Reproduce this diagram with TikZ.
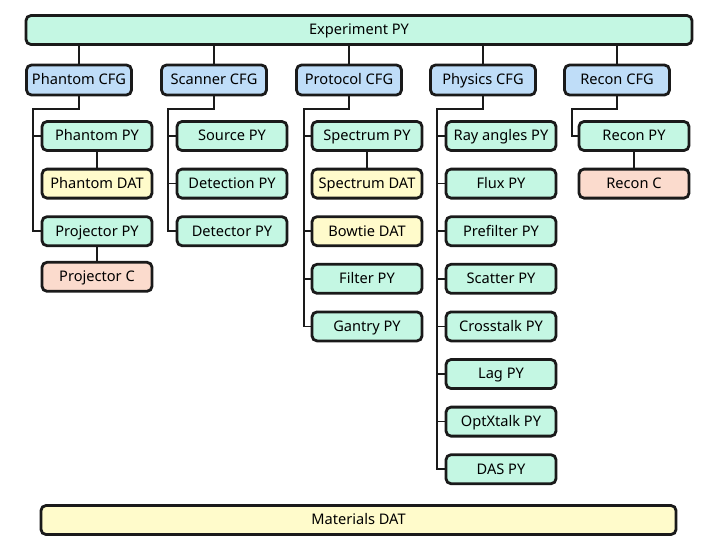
\documentclass[tikz,border=0pt]{standalone}
\usepackage{fontspec}
\setmainfont{Noto Sans}
\definecolor{pyfill}{HTML}{C4F7E3}
\definecolor{cfgfill}{HTML}{BFDDF8}
\definecolor{datfill}{HTML}{FFFBCB}
\definecolor{cfill}{HTML}{FBDBCD}
\definecolor{edge}{HTML}{1A1A1A}
\tikzset{
  box/.style={draw=edge, line width=1.4pt, rounded corners=2.5pt, minimum height=14.5pt, inner sep=0pt, text height=5.3pt, text depth=0.4pt, font=\fontsize{7.3}{9}\selectfont},
  pybox/.style={box, fill=pyfill, minimum width=55pt},
  datbox/.style={box, fill=datfill, minimum width=55pt},
  cbox/.style={box, fill=cfill, minimum width=55pt},
  cfgbox/.style={box, fill=cfgfill, minimum width=52.5pt, minimum height=15pt},
  link/.style={draw=edge, line width=0.8pt}
}
\begin{document}
\begin{tikzpicture}[x=0.5pt, y=-0.5pt]
    \useasboundingbox (0,0) rectangle (716,547);
    % top and bottom bars
    \node [pybox, minimum width=333pt] (exp) at (359,30) {Experiment PY};
    \node [datbox, minimum width=317.5pt] (mat) at (358.5,520) {Materials DAT};
    % configuration row
    \node [cfgbox] (phcfg) at (79,80) {Phantom CFG};
    \node [cfgbox] (sccfg) at (214,80) {Scanner CFG};
    \node [cfgbox] (prcfg) at (349,80) {Protocol CFG};
    \node [cfgbox] (phycfg) at (483,80) {Physics CFG};
    \node [cfgbox] (recfg) at (617,80) {Recon CFG};
    \foreach \n in {phcfg, sccfg, prcfg, phycfg, recfg}
        \draw [link] (exp.south -| \n) -- (\n.north);
    % phantom
    \node [pybox] (phpy) at (97,136) {Phantom PY};
    \node [datbox] (phdat) at (97,183.6) {Phantom DAT};
    \node [pybox] (projpy) at (97,231.2) {Projector PY};
    \node [cbox] (projc) at (97,276.8) {Projector C};
    \coordinate (phbus) at (33,109);
    \draw [link] (phcfg.south) |- (phbus) |- (projpy.west);
    \draw [link] (phpy.west) -- (phpy.west -| phbus);
    \draw [link] (phpy.south) -- (phdat.north);
    \draw [link] (projpy.south) -- (projc.north);
    % scanner
    \node [pybox] (srcpy) at (232,136) {Source PY};
    \node [pybox] (detnpy) at (232,183.6) {Detection PY};
    \node [pybox] (detrpy) at (232,231.2) {Detector PY};
    \coordinate (scbus) at (168,109);
    \draw [link] (sccfg.south) |- (scbus) |- (detrpy.west);
    \draw [link] (srcpy.west) -- (srcpy.west -| scbus);
    \draw [link] (detnpy.west) -- (detnpy.west -| scbus);
    % protocol
    \node [pybox] (specpy) at (367,136) {Spectrum PY};
    \node [datbox] (specdat) at (367,183.6) {Spectrum DAT};
    \node [datbox] (bowdat) at (367,231.2) {Bowtie DAT};
    \node [pybox] (filtpy) at (367,278.8) {Filter PY};
    \node [pybox] (ganpy) at (367,326.4) {Gantry PY};
    \coordinate (prbus) at (304,109);
    \draw [link] (prcfg.south) |- (prbus) |- (ganpy.west);
    \foreach \n in {specpy, bowdat, filtpy}
        \draw [link] (\n.west) -- (\n.west -| prbus);
    \draw [link] (specpy.south) -- (specdat.north);
    % physics
    \node [pybox] (raypy) at (501,136) {Ray angles PY};
    \node [pybox] (fluxpy) at (501,183.6) {Flux PY};
    \node [pybox] (prefpy) at (501,231.2) {Prefilter PY};
    \node [pybox] (scatpy) at (501,278.8) {Scatter PY};
    \node [pybox] (xtpy) at (501,326.4) {Crosstalk PY};
    \node [pybox] (lagpy) at (501,374) {Lag PY};
    \node [pybox] (optpy) at (501,421.6) {OptXtalk PY};
    \node [pybox] (daspy) at (501,469.2) {DAS PY};
    \coordinate (phybus) at (437,109);
    \draw [link] (phycfg.south) |- (phybus) |- (daspy.west);
    \foreach \n in {raypy, fluxpy, prefpy, scatpy, xtpy, lagpy, optpy}
        \draw [link] (\n.west) -- (\n.west -| phybus);
    % recon
    \node [pybox] (recpy) at (634,136) {Recon PY};
    \node [cbox] (recc) at (634,183.6) {Recon C};
    \coordinate (rebus) at (572,109);
    \draw [link] (recfg.south) |- (rebus) |- (recpy.west);
    \draw [link] (recpy.south) -- (recc.north);
\end{tikzpicture}
\end{document}
